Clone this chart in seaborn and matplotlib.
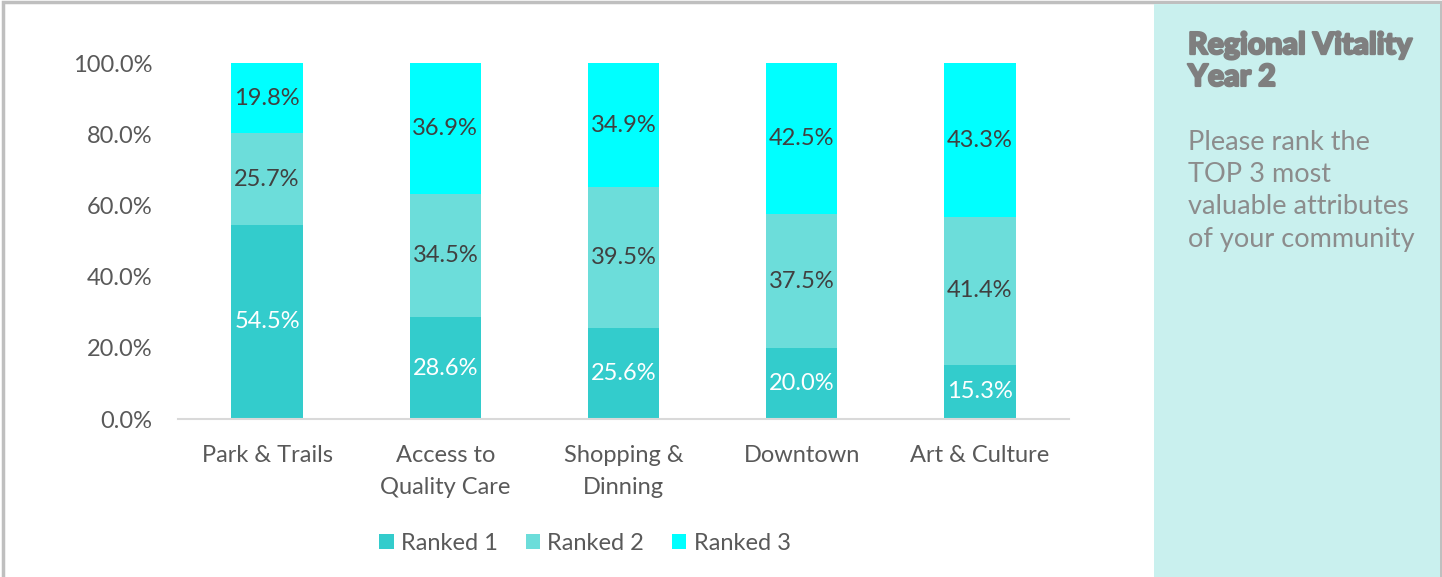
import matplotlib
matplotlib.use("Agg")
import matplotlib.pyplot as plt
import matplotlib.patheffects as pe
import seaborn as sns
import pandas as pd
from matplotlib.patches import Rectangle, Patch

categories = ["Park & Trails", "Access to\nQuality Care", "Shopping &\nDinning", "Downtown", "Art & Culture"]
ranked1 = [54.5, 28.6, 25.6, 20.0, 15.3]
ranked2 = [25.7, 34.5, 39.5, 37.5, 41.4]
ranked3 = [19.8, 36.9, 34.9, 42.5, 43.3]
series_names = ["Ranked 1", "Ranked 2", "Ranked 3"]
colors = ["#33CCCC", "#6CDDDA", "#00FFFF"]
label_colors = ["white", "#404040", "#404040"]
yticks = [0, 20, 40, 60, 80, 100]

sns.set_theme(style="white")
plt.rcParams['font.family'] = ['Lato', 'DejaVu Sans']

W, H = 1442, 577
FS = 17
fig = plt.figure(figsize=(W / 100, H / 100), dpi=100)

# figure frame and side panel
fig.patches.append(Rectangle((3 / W, -0.01), (1441 - 3) / W, (577 - 2) / H + 0.01,
                             transform=fig.transFigure, facecolor="white",
                             edgecolor="#BFBFBF", linewidth=2.5, zorder=0))
fig.patches.append(Rectangle((1154 / W, 0), (1440 - 1154) / W, (577 - 4) / H,
                             transform=fig.transFigure, facecolor="#C9F0EE",
                             edgecolor="none", zorder=1))

ax = fig.add_axes([178 / W, 158 / H, (1069 - 178) / W, (419 - 63) / H])
ax.set_zorder(3)
ax.set_facecolor("none")

df = pd.DataFrame({"category": categories, "r1": ranked1, "r2": ranked2, "r3": ranked3})
bottoms = [0.0] * len(categories)
for name, col, vals, lc in zip(series_names, colors, [ranked1, ranked2, ranked3], label_colors):
    sns.barplot(x=df["category"], y=vals, bottom=bottoms, color=col, width=0.4,
                ax=ax, saturation=1, linewidth=0, label=name)
    for i, v in enumerate(vals):
        ax.text(i, bottoms[i] + v / 2, f"{v:.1f}%", ha="center", va="center",
                color=lc, fontsize=FS)
    bottoms = [b + v for b, v in zip(bottoms, vals)]

ax.set_xlim(-0.5, len(categories) - 0.5)
ax.set_ylim(0, 100)
ax.set_yticks(yticks)
ax.set_yticklabels([f"{t:.1f}%" for t in yticks])
ax.set_xlabel("")
ax.set_ylabel("")
for s in ["top", "right", "left"]:
    ax.spines[s].set_visible(False)
ax.spines["bottom"].set_color("#D9D9D9")
ax.spines["bottom"].set_linewidth(1.5)
ax.tick_params(axis="y", length=0, pad=18.5, labelsize=FS, labelcolor="#595959")
ax.tick_params(axis="x", length=0, pad=19, labelsize=FS, labelcolor="#595959")
for lab in ax.get_xticklabels():
    lab.set_linespacing(1.6)
ax.grid(False)
if ax.get_legend():
    ax.get_legend().remove()

handles = [Patch(facecolor=c, edgecolor="none") for c in colors]
leg = fig.legend(handles, series_names, loc="center", bbox_to_anchor=(585 / W, 1 - 543 / H),
                 ncol=3, frameon=False, fontsize=FS, labelcolor="#595959",
                 handlelength=0.6, handleheight=0.6, handletextpad=0.3, columnspacing=1.2)
leg.set_zorder(4)

t1 = fig.text(1188 / W, 1 - 61 / H, "Regional Vitality\nYear 2", ha="left", va="center",
              fontsize=21.8, fontweight="black", color="#7F7F7F", linespacing=1.17,
              path_effects=[pe.withStroke(linewidth=1.6, foreground="#7F7F7F")])
t2 = fig.text(1188 / W, 1 - 191 / H, "Please rank the\nTOP 3 most\nvaluable attributes\nof your community",
              ha="left", va="center", fontsize=19.5, fontweight="normal", color="#8C8C8C",
              linespacing=1.35)
t1.set_zorder(4)
t2.set_zorder(4)

fig.savefig("out.png", dpi=100)
